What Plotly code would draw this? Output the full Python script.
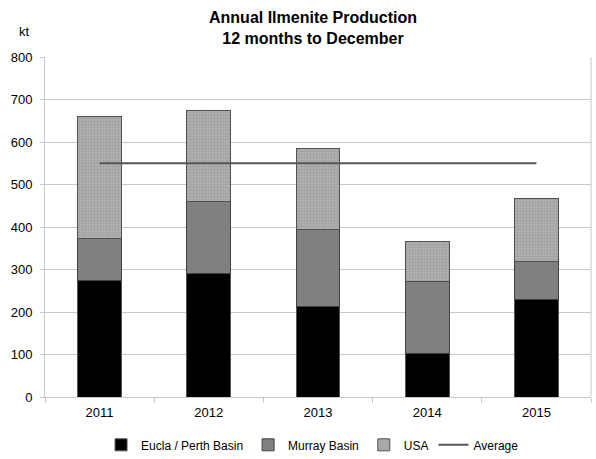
import plotly.graph_objects as go

years = ["2011", "2012", "2013", "2014", "2015"]
eucla = [274, 291, 212, 103, 230]
murray = [99, 168, 182, 168, 90]
usa = [288, 214, 190, 94, 146]
average = [550, 550, 550, 550, 550]

fig = go.Figure()
fig.add_trace(go.Bar(x=years, y=eucla, name="Eucla / Perth Basin",
                     marker=dict(color="#000000", line=dict(color="#555555", width=1))))
fig.add_trace(go.Bar(x=years, y=murray, name="Murray Basin",
                     marker=dict(color="#808080", line=dict(color="#404040", width=1))))
fig.add_trace(go.Bar(x=years, y=usa, name="USA",
                     marker=dict(color="#a8a8a8", line=dict(color="#505050", width=1),
                                 pattern=dict(shape=".", fgcolor="#8a8a8a", bgcolor="#b4b4b4",
                                              size=3, solidity=0.5))))
fig.add_trace(go.Scatter(x=years, y=average, name="Average", mode="lines",
                         line=dict(color="#555555", width=2)))

fig.update_layout(
    width=596, height=459,
    barmode="stack", bargap=0.6,
    plot_bgcolor="white", paper_bgcolor="white",
    margin=dict(l=45, r=5, t=57, b=62, autoexpand=False),
    font=dict(family="Liberation Sans, Arial, sans-serif", size=12, color="#000000"),
    showlegend=True,
    legend=dict(orientation="h", x=0.49, xanchor="center", y=-0.098, yanchor="top",
                font=dict(size=12), itemwidth=30, traceorder="normal"),
    annotations=[
        dict(text="<b>Annual Ilmenite Production<br>12 months to December</b>",
             xref="paper", yref="paper", x=0.49, y=1 + (57 - 27.5) / 340,
             xanchor="center", yanchor="middle", showarrow=False,
             font=dict(family="Liberation Sans, Arial, sans-serif", size=16, color="#000000")),
        dict(text="kt", xref="paper", yref="paper", x=-0.038, y=1.075,
             xanchor="center", yanchor="middle", showarrow=False,
             font=dict(size=13)),
    ],
)

fig.update_xaxes(type="category", showgrid=False, showline=True, linecolor="#c8c8c8",
                 ticks="outside", tickson="boundaries", ticklen=5, tickcolor="#c8c8c8",
                 mirror=False, tickfont=dict(size=13), ticklabelstandoff=3)
fig.update_yaxes(range=[0, 800], dtick=100, showgrid=True, gridcolor="#c8c8c8",
                 showline=True, linecolor="#c8c8c8", ticks="outside", ticklen=4,
                 tickcolor="#c8c8c8", zeroline=False, tickfont=dict(size=13),
                 ticklabelstandoff=5)
fig.add_shape(type="line", xref="paper", yref="paper", x0=1, x1=1, y0=0, y1=1,
              line=dict(color="#c8c8c8", width=1))

fig.write_html("out.html", config={"displayModeBar": False},
               post_script="document.body.style.margin='0';")
